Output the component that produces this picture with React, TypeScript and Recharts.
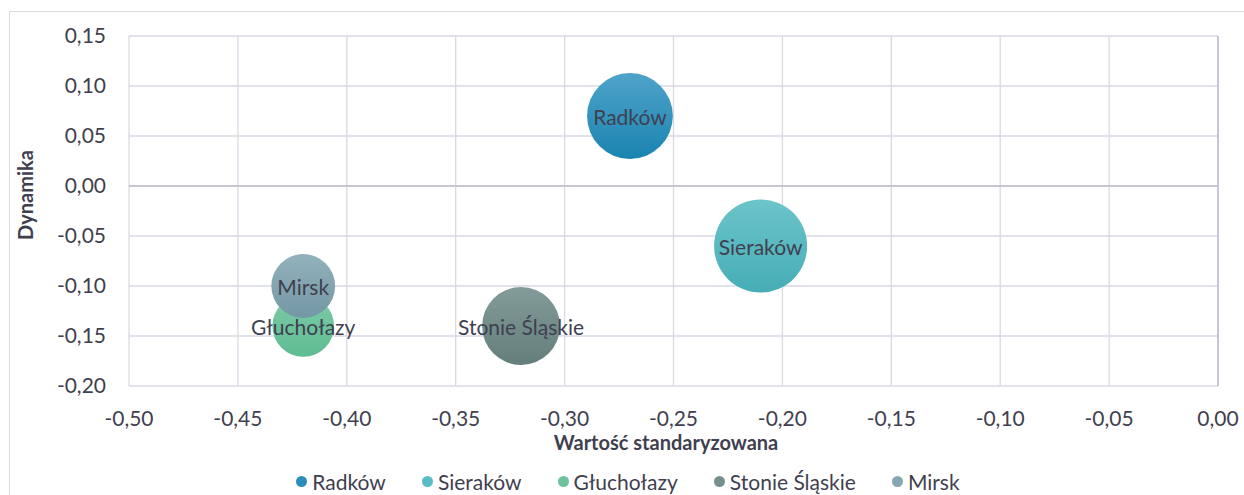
import {
  CartesianGrid,
  Label,
  LabelList,
  Legend,
  ReferenceLine,
  Scatter,
  ScatterChart,
  XAxis,
  YAxis,
  ZAxis,
} from "recharts";

const gminy = ["Radków", "Sieraków", "Głuchołazy", "Stonie Śląskie", "Mirsk"];
const wartoscStandaryzowana = [-0.27, -0.21, -0.42, -0.32, -0.42];
const dynamika = [0.07, -0.06, -0.14, -0.14, -0.1];
const wielkosc = [85, 100, 44, 70, 47];

const xTicks = [-0.5, -0.45, -0.4, -0.35, -0.3, -0.25, -0.2, -0.15, -0.1, -0.05, 0];
const yTicks = [-0.2, -0.15, -0.1, -0.05, 0, 0.05, 0.1, 0.15];

// [góra, dół] gradientu bąbla, kolor znacznika w legendzie
const gradienty = [
  ["#4fa3ca", "#1a84b0"],
  ["#6cc4ca", "#46adb6"],
  ["#7dcaa7", "#5fbc92"],
  ["#839b99", "#647e7c"],
  ["#93b2bc", "#7397a4"],
];
const legendaKolory = ["#2a8dbb", "#58bdc5", "#6cc39d", "#76908e", "#84a7b3"];

const TEXT = "#3f3f50";
const fmt = (v: number) => v.toFixed(2).replace(".", ",");

const seria = gminy.map((name, i) => [
  { name, x: wartoscStandaryzowana[i], y: dynamika[i], z: wielkosc[i] },
]);

// etykieta w środku bąbla, bez łamania wierszy
const renderBubbleLabel = (p: any) => {
  const vb = p.viewBox ?? p;
  const cx = vb.cx ?? vb.x + vb.width / 2;
  const cy = vb.cy ?? vb.y + vb.height / 2;
  return (
    <text
      x={cx}
      y={cy}
      textAnchor="middle"
      dominantBaseline="central"
      fill={TEXT}
      fontSize={21}
    >
      {p.value}
    </text>
  );
};

const renderLegend = () => (
  <div
    style={{
      display: "flex",
      justifyContent: "center",
      alignItems: "center",
      height: 28,
      paddingLeft: 12,
      gap: 36,
      fontSize: 21,
      color: TEXT,
    }}
  >
    {gminy.map((g, i) => (
      <div key={g} style={{ display: "flex", alignItems: "center" }}>
        <span
          style={{
            display: "inline-block",
            width: 11,
            height: 11,
            borderRadius: "50%",
            background: legendaKolory[i],
            marginRight: 5,
          }}
        />
        {g}
      </div>
    ))}
  </div>
);

export default function App() {
  return (
    <div
      style={{
        position: "absolute",
        left: 0,
        top: 0,
        width: 1244,
        height: 495,
        overflow: "hidden",
        background: "#fff",
        fontFamily: "Lato, 'Open Sans', sans-serif",
      }}
    >
      <div
        style={{
          position: "absolute",
          left: 9,
          top: 11,
          width: 1260,
          height: 520,
          border: "1px solid #d9d9e0",
        }}
      />
      <ScatterChart
        width={1244}
        height={495}
        margin={{ top: 36, right: 26, bottom: 0, left: 49 }}
      >
        <defs>
          {gradienty.map((g, i) => (
            <linearGradient key={i} id={`bq${i}`} x1="0" y1="0" x2="0" y2="1">
              <stop offset="0%" stopColor={g[0]} />
              <stop offset="100%" stopColor={g[1]} />
            </linearGradient>
          ))}
        </defs>
        <CartesianGrid stroke="#d9d9e3" strokeWidth={1.3} />
        <XAxis
          type="number"
          dataKey="x"
          domain={[-0.5, 0]}
          ticks={xTicks}
          interval={0}
          tickFormatter={fmt}
          axisLine={false}
          tickLine={false}
          tickSize={0}
          tickMargin={25}
          height={81}
          tick={{ fill: TEXT, fontSize: 21 }}
        >
          <Label
            content={() => (
              <text
                x={666}
                y={450}
                textAnchor="middle"
                fill={TEXT}
                fontSize={20}
                fontWeight="bold"
              >
                Wartość standaryzowana
              </text>
            )}
          />
        </XAxis>
        <YAxis
          type="number"
          dataKey="y"
          domain={[-0.2, 0.15]}
          ticks={yTicks}
          interval={0}
          tickFormatter={fmt}
          axisLine={false}
          tickLine={false}
          tickSize={0}
          tickMargin={23}
          width={80}
          tick={{ fill: TEXT, fontSize: 21 }}
        >
          <Label
            content={() => (
              <text
                x={33}
                y={195}
                transform="rotate(-90, 33, 195)"
                textAnchor="middle"
                fill={TEXT}
                fontSize={20}
                fontWeight="bold"
              >
                Dynamika
              </text>
            )}
          />
        </YAxis>
        <ZAxis type="number" dataKey="z" domain={[0, 100]} range={[0, 6800]} />
        <ReferenceLine y={0} stroke="#bcbccc" strokeWidth={1.5} />
        <ReferenceLine x={0} stroke="#bcbccc" strokeWidth={1.5} />
        <Legend
          verticalAlign="bottom"
          content={renderLegend}
          wrapperStyle={{ left: 0, bottom: 0, width: 1244, height: 28 }}
        />
        {seria.map((d, i) => (
          <Scatter
            key={gminy[i]}
            name={gminy[i]}
            data={d}
            fill={`url(#bq${i})`}
            isAnimationActive={false}
          >
            <LabelList dataKey="name" content={renderBubbleLabel} />
          </Scatter>
        ))}
      </ScatterChart>
    </div>
  );
}
